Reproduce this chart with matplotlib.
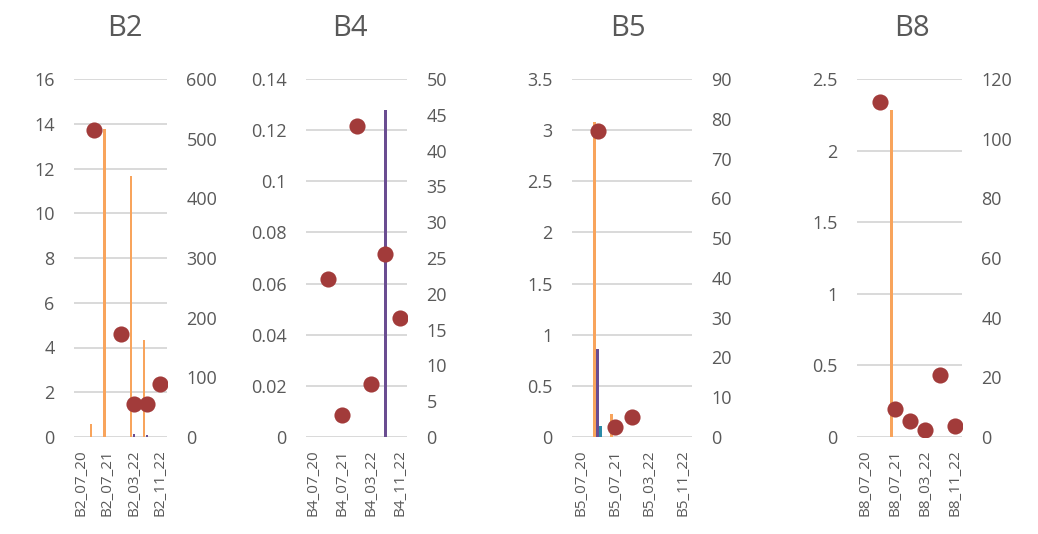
import numpy as np
import matplotlib
matplotlib.use("Agg")
import matplotlib.pyplot as plt
from matplotlib.ticker import FixedLocator, FuncFormatter

plt.rcParams["font.family"] = ["Open Sans", "DejaVu Sans"]

nan = np.nan

# Sites and sampling campaigns (seven campaigns, every other one labelled)
sites = ["B2", "B4", "B5", "B8"]
labelled_dates = ["07_20", "07_21", "03_22", "11_22"]
n_campaigns = 7

# Bar series on the left axis
orange_vals = {
    "B2": [0, 0.6, 13.75, 0, 11.66, 4.32, 0],
    "B4": [0, 0, 0, 0, 0, 0, 0],
    "B5": [0, 3.08, 0.228, 0, 0, 0, 0],
    "B8": [0, 0, 2.283, 0, 0, 0, 0],
}
purple_vals = {
    "B2": [0, 0, 0, 0, 0.12, 0.08, 0],
    "B4": [0, 0, 0, 0, 0, 0.128, 0],
    "B5": [0, 0.864, 0, 0, 0, 0, 0],
    "B8": [0, 0, 0, 0, 0, 0, 0],
}
teal_vals = {
    "B2": [0, 0, 0, 0, 0, 0, 0],
    "B4": [0, 0, 0, 0, 0, 0, 0],
    "B5": [0, 0.108, 0, 0, 0, 0, 0],
    "B8": [0, 0, 0, 0, 0, 0, 0],
}

# Point series on the right axis
point_vals = {
    "B2": [nan, 515, nan, 172, 56, 56, 88],
    "B4": [nan, 22.1, 3.1, 43.5, 7.4, 25.6, 16.6],
    "B5": [nan, 77.0, 2.5, 5.0, nan, nan, nan],
    "B8": [nan, 112.2, 9.5, 5.4, 2.5, 20.7, 3.7],
}

# Axis ranges: (max, step)
left_axis = {"B2": (16, 2), "B4": (0.14, 0.02), "B5": (3.5, 0.5), "B8": (2.5, 0.5)}
right_axis = {"B2": (600, 100), "B4": (50, 5), "B5": (90, 10), "B8": (120, 20)}

# Panel placement in pixels (left, width)
W, H = 1038, 534
panel_px = {"B2": (74, 93), "B4": (306, 101), "B5": (572, 120), "B8": (857, 105)}
title_x = {"B2": 125, "B4": 350, "B5": 628, "B8": 912}
plot_top, plot_bottom = 79, 437

TEXT = "#595959"
GRID = "#D9D9D9"
C_ORANGE = "#F8A45C"
C_PURPLE = "#6A4D91"
C_TEAL = "#2A8BA8"
C_POINT = "#A23B3A"

fmt = FuncFormatter(lambda v, p: f"{round(v, 6):g}")

fig = plt.figure(figsize=(W / 100, H / 100), dpi=100)

x = np.arange(n_campaigns)
bw = 0.17

for site in sites:
    lpx, wpx = panel_px[site]
    ax = fig.add_axes([lpx / W, 1 - plot_bottom / H, wpx / W, (plot_bottom - plot_top) / H])
    ax2 = ax.twinx()

    lmax, lstep = left_axis[site]
    rmax, rstep = right_axis[site]
    lticks = np.arange(0, lmax + lstep / 2, lstep)
    rticks = np.arange(0, rmax + rstep / 2, rstep)

    for t in lticks:
        ax.axhline(t, color=GRID, lw=1.4, zorder=0)

    ax.bar(x - 0.21, orange_vals[site], width=bw, color=C_ORANGE, zorder=2)
    ax.bar(x, purple_vals[site], width=bw, color=C_PURPLE, zorder=2)
    ax.bar(x + 0.17, teal_vals[site], width=bw, color=C_TEAL, zorder=2)

    ax2.scatter(x, point_vals[site], s=135, color=C_POINT, zorder=3, linewidths=0)

    ax.set_xlim(-0.5, n_campaigns - 0.5)
    ax.set_ylim(0, lmax)
    ax2.set_ylim(0, rmax)
    ax.yaxis.set_major_locator(FixedLocator(lticks))
    ax2.yaxis.set_major_locator(FixedLocator(rticks))
    ax.yaxis.set_major_formatter(fmt)
    ax2.yaxis.set_major_formatter(fmt)

    ax.set_xticks([0, 2, 4, 6])
    ax.set_xticklabels([f"{site}_{d}" for d in labelled_dates], rotation=90,
                       fontsize=11, color=TEXT)

    ax.tick_params(axis="y", length=0, pad=14, labelsize=13, labelcolor=TEXT)
    ax2.tick_params(axis="y", length=0, pad=14, labelsize=13, labelcolor=TEXT)
    ax.tick_params(axis="x", length=0, pad=9)

    for a in (ax, ax2):
        for s in a.spines.values():
            s.set_visible(False)
        a.patch.set_visible(False)

    fig.text(title_x[site] / W, 1 - 28 / H, site, ha="center", va="center",
             fontsize=21, color=TEXT)

fig.savefig("out.png", dpi=100)
